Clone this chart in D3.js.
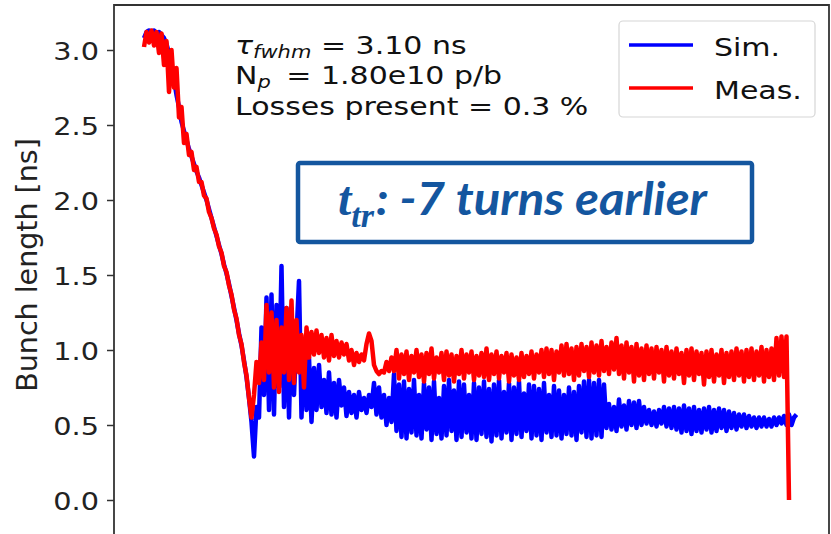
<!DOCTYPE html>
<html>
<head>
<meta charset="utf-8">
<script src="https://cdn.jsdelivr.net/npm/d3@7"></script>
<style>
  html, body { margin: 0; padding: 0; background: #fff; }
  svg { display: block; }
</style>
</head>
<body>
<svg id="chart" width="831" height="534"></svg>
<script>
// ---- data (bunch length in ns, sampled uniformly in turns) ----
const yTicks = [0.0, 0.5, 1.0, 1.5, 2.0, 2.5, 3.0];
const seriesNames = ["Sim.", "Meas."];
const seriesColors = ["#0000ff", "#ff0000"];

const sim = [
3.08,3.12,3.13,3.12,3.13,3.11,3.12,3.10,3.08,3.04,
2.98,2.90,2.80,2.70,2.62,2.52,2.46,2.40,2.34,2.29,
2.24,2.19,2.15,2.10,2.05,2.00,1.94,1.88,1.82,1.76,
1.70,1.64,1.57,1.51,1.44,1.36,1.28,1.20,1.11,1.03,
0.93,0.82,0.68,0.52,0.29,0.62,0.55,1.15,0.70,1.35,
0.60,1.37,0.57,1.30,0.75,1.56,0.62,1.28,0.55,1.20,
0.70,1.10,1.46,0.55,1.05,0.60,0.95,0.52,0.88,0.60,
0.90,0.62,0.80,0.58,0.85,0.57,0.78,0.55,0.80,0.63,
0.75,0.56,0.72,0.58,0.70,0.55,0.72,0.60,0.68,0.58,
0.70,0.62,0.78,0.57,0.75,0.55,0.70,0.50,0.68,0.52,
0.84,0.46,0.77,0.42,0.79,0.41,0.74,0.45,0.80,0.43,
0.70,0.41,0.78,0.47,0.75,0.40,0.79,0.44,0.68,0.41,
0.76,0.43,0.80,0.46,0.73,0.40,0.79,0.42,0.77,0.45,
0.70,0.41,0.78,0.40,0.75,0.44,0.79,0.42,0.74,0.39,
0.77,0.43,0.80,0.41,0.72,0.45,0.78,0.40,0.75,0.44,
0.79,0.42,0.71,0.46,0.77,0.41,0.76,0.43,0.74,0.40,
0.78,0.45,0.70,0.42,0.76,0.43,0.73,0.41,0.70,0.44,
0.75,0.43,0.72,0.40,0.76,0.45,0.79,0.42,0.80,0.41,
0.78,0.43,0.80,0.42,0.77,0.48,0.64,0.47,0.62,0.46,
0.67,0.49,0.63,0.47,0.66,0.50,0.65,0.48,0.66,0.50,
0.62,0.51,0.60,0.50,0.59,0.49,0.60,0.51,0.62,0.49,
0.61,0.48,0.62,0.47,0.61,0.45,0.63,0.46,0.61,0.44,
0.62,0.46,0.60,0.45,0.61,0.47,0.62,0.45,0.60,0.46,
0.61,0.48,0.60,0.46,0.59,0.48,0.58,0.47,0.57,0.49,
0.57,0.48,0.56,0.49,0.55,0.48,0.55,0.49,0.55,0.49,
0.54,0.49,0.55,0.50,0.55,0.51,0.56,0.50,0.57,0.50,
0.55,0.57
];

const meas = [
3.02,3.12,3.05,3.13,3.03,3.12,2.98,3.11,2.90,3.06,
2.72,3.00,2.75,2.88,2.55,2.62,2.38,2.44,2.30,2.32,
2.20,2.22,2.12,2.12,2.03,2.01,1.92,1.88,1.81,1.77,
1.69,1.65,1.56,1.52,1.43,1.37,1.27,1.21,1.10,1.04,
0.92,0.83,0.68,0.55,0.70,0.92,0.78,1.05,0.80,1.30,
0.85,1.25,0.75,1.20,0.72,1.15,0.85,1.28,0.80,1.33,
0.78,1.20,0.85,1.10,0.75,1.15,0.95,1.12,0.97,1.13,
0.98,1.10,0.95,1.08,0.93,1.10,0.96,1.06,0.95,1.05,
0.97,1.04,0.93,1.00,0.90,0.98,0.92,0.97,0.93,1.04,
1.11,1.06,0.90,0.86,0.84,0.86,0.85,0.92,0.86,0.95,
0.86,1.00,0.81,0.97,0.84,0.99,0.80,0.96,0.85,1.00,
0.82,0.97,0.79,0.98,0.84,1.01,0.81,0.95,0.85,0.98,
0.80,0.99,0.83,0.97,0.79,0.96,0.84,1.00,0.81,0.97,
0.85,0.99,0.80,0.96,0.83,0.98,0.82,1.01,0.80,0.97,
0.84,0.99,0.81,0.96,0.85,0.98,0.79,0.97,0.83,0.95,
0.80,0.98,0.82,0.96,0.84,0.99,0.81,0.97,0.85,1.00,
0.82,1.01,0.84,1.00,0.80,0.99,0.85,1.03,0.83,1.04,
0.84,1.01,0.80,1.02,0.83,1.04,0.86,1.02,0.82,1.05,
0.85,1.03,0.83,1.06,0.86,1.02,0.84,1.05,0.87,1.08,
0.84,1.03,0.81,1.05,0.85,1.02,0.79,1.04,0.83,1.01,
0.80,1.03,0.84,1.01,0.81,1.02,0.85,1.00,0.79,1.02,
0.83,0.99,0.81,1.01,0.84,0.98,0.78,1.00,0.83,1.01,
0.80,0.99,0.84,0.98,0.77,0.99,0.82,1.00,0.79,0.97,
0.83,1.00,0.78,0.98,0.82,0.99,0.80,1.01,0.83,0.99,
0.79,1.00,0.82,1.01,0.80,0.99,0.83,1.02,0.79,1.00,
0.82,1.01,0.80,1.08,0.83,1.09,0.82,1.09,0.00
];

const annotLines = [
  {main: "τ", sub: "fwhm", rest: " = 3.10 ns", mainItalic: true, gap: 0},
  {main: "N", sub: "p", rest: " = 1.80e10 p/b", mainItalic: false, gap: 5},
  {main: "Losses present = 0.3 %", sub: "", rest: "", mainItalic: false, gap: 0}
];
const yLabel = "Bunch length [ns]";
const calloutMain = "t";
const calloutSub = "tr";
const calloutRest = ": -7 turns earlier";

// ---- layout ----
const W = 831, H = 534;
const plot = {left: 114, right: 829, top: 5, bottom: 537.5};
const sxTick = 1.15;
const sxText = 1.2;

const svg = d3.select("#chart");

const x = d3.scaleLinear().domain([-12, 274]).range([plot.left, plot.right]);
const y = d3.scaleLinear().domain([-0.25, 3.3]).range([plot.bottom, plot.top]);

svg.append("defs").append("clipPath").attr("id", "clip")
  .append("rect").attr("x", plot.left).attr("y", plot.top)
  .attr("width", plot.right - plot.left).attr("height", plot.bottom - plot.top);

const line = d3.line().x((d, i) => x(i)).y(d => y(d));

const gLines = svg.append("g").attr("clip-path", "url(#clip)");
[sim, meas].forEach((s, k) => {
  gLines.append("path").datum(s)
    .attr("d", line)
    .attr("fill", "none")
    .attr("stroke", seriesColors[k])
    .attr("stroke-width", 4.5)
    .attr("stroke-linejoin", "round")
    .attr("stroke-linecap", "butt");
});

// frame
svg.append("path")
  .attr("d", `M${plot.left},${H + 10}V${plot.top}H${plot.right}V${H + 10}`)
  .attr("fill", "none").attr("stroke", "#333").attr("stroke-width", 1.8);

// y axis
const yAxis = d3.axisLeft(y).tickValues(yTicks).tickFormat(d3.format(".1f")).tickSize(7).tickPadding(7);
const gy = svg.append("g").attr("transform", `translate(${plot.left},0)`).call(yAxis);
gy.select(".domain").remove();
gy.selectAll(".tick line").attr("stroke", "#333").attr("stroke-width", 1.5);
gy.selectAll(".tick text")
  .attr("font-family", "DejaVu Sans")
  .attr("font-size", 25)
  .attr("fill", "#222")
  .attr("dy", null)
  .attr("x", null)
  .attr("transform", `translate(-15,9.5) scale(${sxTick},1)`);

// y label
svg.append("text")
  .attr("transform", `translate(37,265) rotate(-90)`)
  .attr("text-anchor", "middle")
  .attr("font-family", "DejaVu Sans")
  .attr("font-size", 28.5)
  .attr("fill", "#222")
  .text(yLabel);

// annotation text
const annBase = [54, 84, 115];
annotLines.forEach((L, i) => {
  const t = svg.append("text")
    .attr("transform", `translate(235,${annBase[i]}) scale(${sxText},1)`)
    .attr("font-family", "DejaVu Sans")
    .attr("font-size", 25)
    .attr("fill", "#111");
  t.append("tspan").attr("font-style", L.mainItalic ? "italic" : "normal").text(L.main);
  if (L.sub) {
    t.append("tspan").attr("font-style", "italic").attr("font-size", 17.5).attr("dy", 4).text(L.sub);
    t.append("tspan").attr("dy", -4).attr("dx", L.gap).text(L.rest);
  }
});

// legend
const lg = svg.append("g");
lg.append("rect").attr("x", 619).attr("y", 21).attr("width", 196).attr("height", 96)
  .attr("rx", 4).attr("fill", "#fff").attr("fill-opacity", 0.85)
  .attr("stroke", "#d6d6d6").attr("stroke-width", 1.2);
seriesNames.forEach((n, k) => {
  const yy = 45 + k * 43;
  lg.append("line").attr("x1", 629).attr("x2", 693).attr("y1", yy).attr("y2", yy)
    .attr("stroke", seriesColors[k]).attr("stroke-width", 3.5);
  lg.append("text").attr("transform", `translate(714,${yy + 11}) scale(${sxText},1)`)
    .attr("font-family", "DejaVu Sans").attr("font-size", 25).attr("fill", "#111").text(n);
});

// callout box
const blue = "#14569f";
svg.append("rect").attr("x", 298).attr("y", 163).attr("width", 454).attr("height", 79)
  .attr("rx", 2).attr("fill", "#fff").attr("stroke", blue).attr("stroke-width", 4.5);
const ct = svg.append("text").attr("x", 338).attr("y", 215).attr("fill", blue)
  .attr("font-family", "Liberation Serif").attr("font-style", "italic").attr("font-weight", "bold");
ct.append("tspan").attr("font-size", 48).text(calloutMain);
ct.append("tspan").attr("font-size", 34).attr("dy", 12).text(calloutSub);
svg.append("text").attr("x", 376).attr("y", 215).attr("fill", blue)
  .attr("font-family", "Lato").attr("font-style", "italic").attr("font-weight", "bold")
  .attr("font-size", 46)
  .attr("textLength", 331).attr("lengthAdjust", "spacingAndGlyphs")
  .text(calloutRest);
</script>
</body>
</html>
